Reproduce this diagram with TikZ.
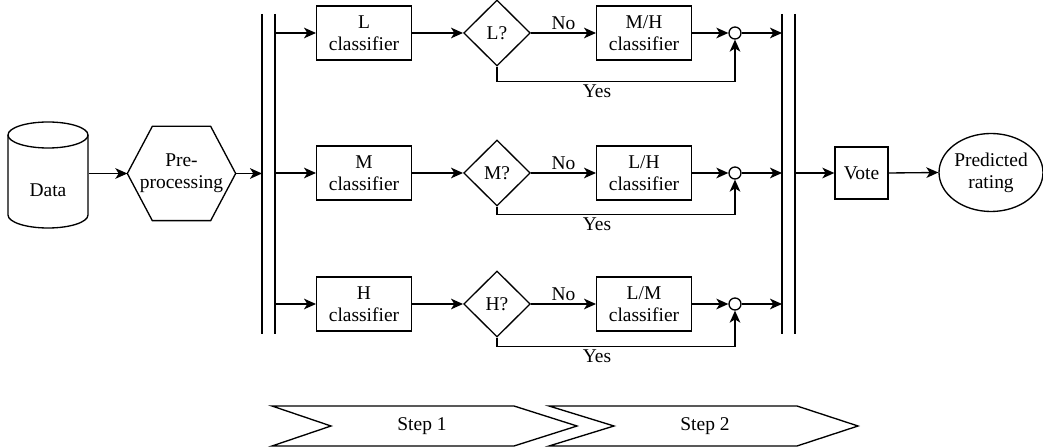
\documentclass[tikz,border=0pt]{standalone}
\usepackage{fontspec}
\setmainfont{Liberation Serif}
\newfontfamily\tnr{Liberation Serif}
\usetikzlibrary{arrows.meta,shapes.geometric,calc}
\begin{document}
\begin{tikzpicture}[x=0.75pt,y=-0.75pt, line width=1pt,
  font=\tnr\fontsize{14.6}{16.5}\selectfont,
  arr/.style={-{Stealth[length=9pt,width=8pt,inset=2.5pt]}},
  box/.style={draw, minimum width=71pt, minimum height=40.5pt, align=center, inner sep=1pt},
  dia/.style={draw, diamond, minimum width=50pt, minimum height=49.5pt, inner sep=0pt},
  junc/.style={draw, circle, minimum size=9pt, inner sep=0pt},
  lbl/.style={inner sep=2pt}]
\useasboundingbox (0,0) rectangle (1043,448);

% source: cylinder
\node[minimum width=60pt, minimum height=79.5pt, inner sep=0pt] (data) at (48,175) {};
\draw (8,135) -- (8,215) arc[start angle=180, end angle=0, x radius=40, y radius=13] -- (88,135);
\draw (48,135) ellipse [x radius=40, y radius=13];
\node (datalbl) at (48,190) {Data};

\node[minimum width=80.25pt, minimum height=69.75pt, align=center, inner sep=0pt] (pre) at (181.5,173.5) {Pre-\\processing};
\draw (pre.west) -- ($(pre.north west)+(25,0)$) -- ($(pre.north east)+(-25,0)$) -- (pre.east)
  -- ($(pre.south east)+(-25,0)$) -- ($(pre.south west)+(25,0)$) -- cycle;
\draw[arr] (data.east |- pre.west) -- (pre.west);

% bars
\coordinate (lA1) at (262,14); \coordinate (lA2) at (262,334);
\coordinate (lB1) at (275,14); \coordinate (lB2) at (275,334);
\coordinate (rA1) at (782,14); \coordinate (rA2) at (782,334);
\coordinate (rB1) at (795,14); \coordinate (rB2) at (795,334);
\draw (lA1) -- (lA2); \draw (lB1) -- (lB2);
\draw (rA1) -- (rA2); \draw (rB1) -- (rB2);
\coordinate (inL) at (262,173.5);
\draw[arr] (pre.east) -- (inL);

% rows
\foreach \r/\y/\a/\b/\yo in {1/33/L/M\slash H/15, 2/173/M/L\slash H/8, 3/304/H/L\slash M/9}{
  \coordinate (lo\r) at (275,\y);
  \coordinate (ri\r) at (782,\y);
  \node[box] (cl\r) at (364,\y) {\a\\classifier};
  \node[dia] (d\r) at (497,\y) {\a?};
  \node[box] (sc\r) at (644,\y) {\b\\classifier};
  \node[junc] (j\r) at (735,\y) {};
  \draw[arr] (lo\r) -- (cl\r.west);
  \draw[arr] (cl\r.east) -- (d\r.west);
  \draw[arr] (d\r.east) -- node[above, lbl] {No} (sc\r.west);
  \draw[arr] (sc\r.east) -- (j\r.west);
  \draw[arr] (j\r.east) -- (ri\r);
  \draw[arr] (d\r.south) -- ++(0,\yo) -| node[pos=0.21, below, lbl] {Yes} (j\r.south);
}

% output
\coordinate (outR) at (795,173);
\node[box, minimum width=39.75pt, minimum height=39pt] (vote) at (861.5,173) {Vote};
\node[draw, ellipse, minimum width=73.5pt, minimum height=58.5pt, align=center, inner sep=0pt] (pred) at (991,172.5) {Predicted\\rating};
\draw[arr] (outR) -- (vote.west);
\draw[arr] (vote.east) -- (pred.west);

% steps
\node (s1) at (422,426) {Step 1};
\node (s2) at (705,426) {Step 2};
\draw (272,406) -- (514,406) -- (577,426) -- (514,446) -- (272,446) -- (331,426) -- cycle;
\draw (549,406) -- (797,406) -- (858,426) -- (797,446) -- (549,446) -- (614,426) -- cycle;
\end{tikzpicture}
\end{document}
